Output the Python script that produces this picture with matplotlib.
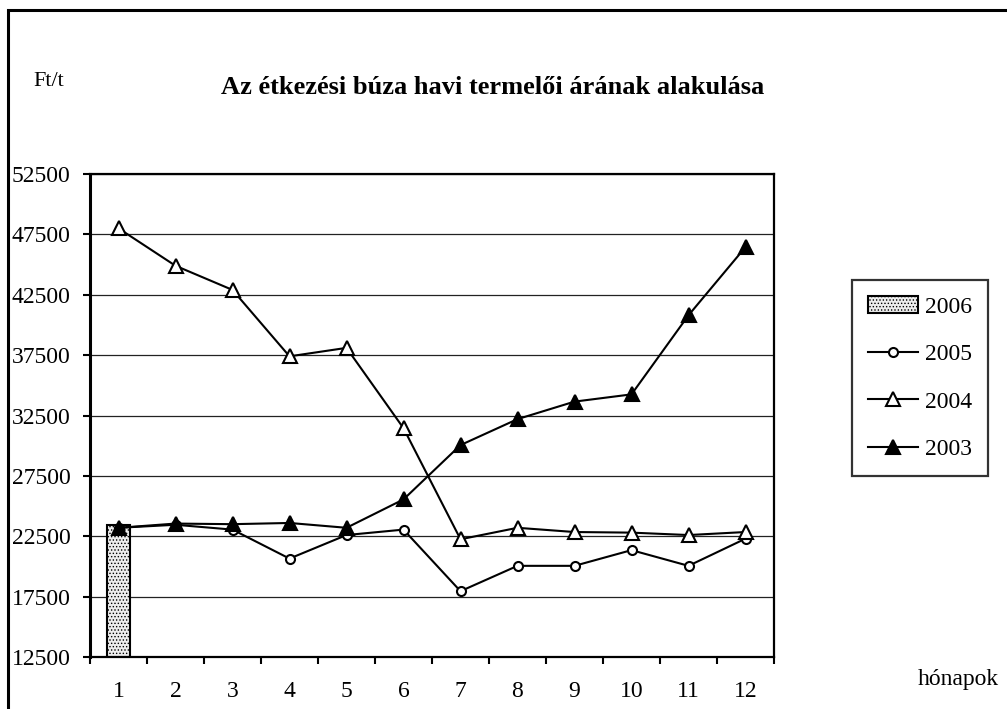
import matplotlib
matplotlib.use('Agg')
import matplotlib.pyplot as plt
from matplotlib.patches import Rectangle
import numpy as np

plt.rcParams.update({'font.family': ['Liberation Serif', 'DejaVu Serif'],
                     'hatch.linewidth': 0.6})

# 데이터 (Ft/t, 월별)
months = np.arange(1, 13)
p2006 = [23400]
p2005 = [23200, 23450, 23050, 20650, 22600, 23050, 17950, 20050, 20050, 21350, 20050, 22300]
p2004 = [48000, 44900, 42900, 37400, 38100, 31450, 22250, 23200, 22850, 22800, 22600, 22850]
p2003 = [23200, 23550, 23500, 23600, 23200, 25550, 30050, 32200, 33650, 34250, 40800, 46450]
yticks = [12500, 17500, 22500, 27500, 32500, 37500, 42500, 47500, 52500]

W, H = 1007, 709
fig = plt.figure(figsize=(W / 100, H / 100), dpi=100)

# 바깥 테두리 (왼쪽·위만 보임)
fig.add_artist(Rectangle((8 / W, -0.1), 1.2, 1.1 - 10 / H, transform=fig.transFigure,
                         fill=False, ec='k', lw=2.2, clip_on=False))

ax = fig.add_axes([90 / W, (H - 657) / H, 684 / W, 483 / H])
b06 = ax.bar([1], p2006, width=0.41, color='#ededed', edgecolor='k', hatch='.....', lw=1.5,
             label='2006', zorder=2)
l05, = ax.plot(months, p2005, '-o', color='k', lw=1.5, ms=6.5, mfc='white', mec='k', mew=1.5,
               label='2005', zorder=3)
l04, = ax.plot(months, p2004, '-^', color='k', lw=1.5, ms=10, mfc='white', mec='k', mew=1.5,
               label='2004', zorder=3)
l03, = ax.plot(months, p2003, '-^', color='k', lw=1.5, ms=10, mfc='k', mec='k', mew=1.5,
               label='2003', zorder=4)

ax.set_ylim(12500, 52500)
ax.set_xlim(0.5, 12.5)
ax.set_yticks(yticks)
ax.set_yticklabels([str(v) for v in yticks])
ax.set_xticks(months)
ax.set_xticklabels([str(m) for m in months])
ax.set_xticks(np.arange(0.5, 13, 1), minor=True)
ax.tick_params(axis='x', which='major', length=0, pad=17, labelsize=17)
ax.tick_params(axis='x', which='minor', length=5, width=1.5, direction='out')
ax.tick_params(axis='y', length=5, width=1.5, direction='out', pad=9, labelsize=17)
ax.grid(axis='y', color='#222222', lw=0.9, zorder=0)
for s in ax.spines.values():
    s.set_linewidth(1.6)
ax.spines['left'].set_linewidth(2.2)

fig.text(33 / W, 1 - 82 / H, 'Ft/t', fontsize=16, va='center', ha='left')
fig.text(493 / W, 1 - 87 / H, 'Az étkezési búza havi termelői árának alakulása',
         fontsize=19, fontweight='bold', ha='center', va='center')
fig.text(918 / W, 1 - 680 / H, 'hónapok', fontsize=17, ha='left', va='center')

leg = fig.legend([b06, l05, l04, l03], ['2006', '2005', '2004', '2003'],
                 loc='upper left', bbox_to_anchor=(852 / W, 1 - 280 / H), fontsize=17,
                 frameon=True, fancybox=False, edgecolor='k', handlelength=2.1,
                 handletextpad=0.3, labelspacing=1.1, borderpad=0.68, borderaxespad=0)
leg.get_frame().set_linewidth(1.6)

fig.savefig('out.png', dpi=100)
